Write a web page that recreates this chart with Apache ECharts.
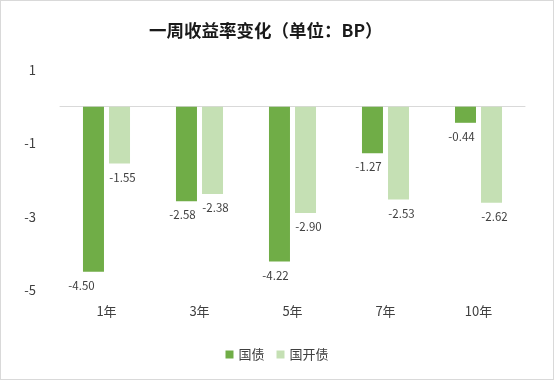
<!DOCTYPE html>
<html>
<head>
<meta charset="utf-8">
<script src="https://cdn.jsdelivr.net/npm/echarts@6/dist/echarts.min.js"></script>
<style>
html,body{margin:0;padding:0;background:#fff;}
#c{width:554px;height:380px;box-sizing:border-box;border:1px solid #d9d9d9;}
</style>
</head>
<body>
<div id="c"></div>
<script>
const categories = ['1年', '3年', '5年', '7年', '10年'];
const seriesNames = ['国债', '国开债'];
const guozhai = [-4.50, -2.58, -4.22, -1.27, -0.44];
const guokai = [-1.55, -2.38, -2.90, -2.53, -2.62];
const yTicks = [1, -1, -3, -5];

const chart = echarts.init(document.getElementById('c'));
const font = '"Microsoft YaHei","Noto Sans CJK SC","Open Sans",sans-serif';
const colors = ['#70AD47', '#C5E0B4'];
const labelOffsets = [[-4, 0], [3, 0]];

function makeSeries(name, values, idx) {
  return {
    name: name,
    type: 'bar',
    xAxisIndex: 0,
    barWidth: 21,
    barGap: '24%',
    itemStyle: { color: colors[idx] },
    data: values.map(v => {
      const item = { value: v };
      if (v === Math.min(...guozhai, ...guokai)) {
        item.label = { offset: [-12, 0] };
      }
      return item;
    }),
    label: {
      show: true,
      position: 'bottom',
      distance: 8,
      offset: labelOffsets[idx],
      color: '#404040',
      fontSize: 11.5,
      fontFamily: font,
      formatter: p => p.value.toFixed(2)
    }
  };
}

chart.setOption({
  animation: false,
  title: {
    text: '一周收益率变化（单位：BP）',
    left: 143,
    top: 16,
    textStyle: { fontSize: 17.5, fontWeight: 'bold', color: '#1a1a1a', fontFamily: font }
  },
  legend: {
    bottom: 13,
    left: 'center',
    itemWidth: 8,
    itemHeight: 8,
    itemGap: 12,
    icon: 'rect',
    textStyle: { fontSize: 13, color: '#404040', fontFamily: font },
    data: seriesNames
  },
  grid: { left: 59, right: 28, top: 69, bottom: 89 },
  xAxis: [{
    type: 'category',
    data: categories,
    position: 'bottom',
    axisLine: { show: false, onZero: false },
    axisTick: { show: false },
    axisLabel: { margin: 15, fontSize: 13, color: '#404040', fontFamily: font }
  }, {
    type: 'category',
    data: categories,
    position: 'bottom',
    axisLine: { show: true, onZero: true, lineStyle: { color: '#d9d9d9', width: 1 } },
    axisTick: { show: false },
    axisLabel: { show: false }
  }],
  yAxis: {
    type: 'value',
    min: -5,
    max: 1,
    interval: 2,
    axisLine: { show: false },
    axisTick: { show: false },
    splitLine: { show: false },
    axisLabel: {
      margin: 24,
      fontSize: 13,
      color: '#404040',
      fontFamily: font,
      formatter: v => yTicks.includes(v) ? String(v) : ''
    }
  },
  series: [
    makeSeries(seriesNames[0], guozhai, 0),
    makeSeries(seriesNames[1], guokai, 1)
  ]
});
</script>
</body>
</html>
